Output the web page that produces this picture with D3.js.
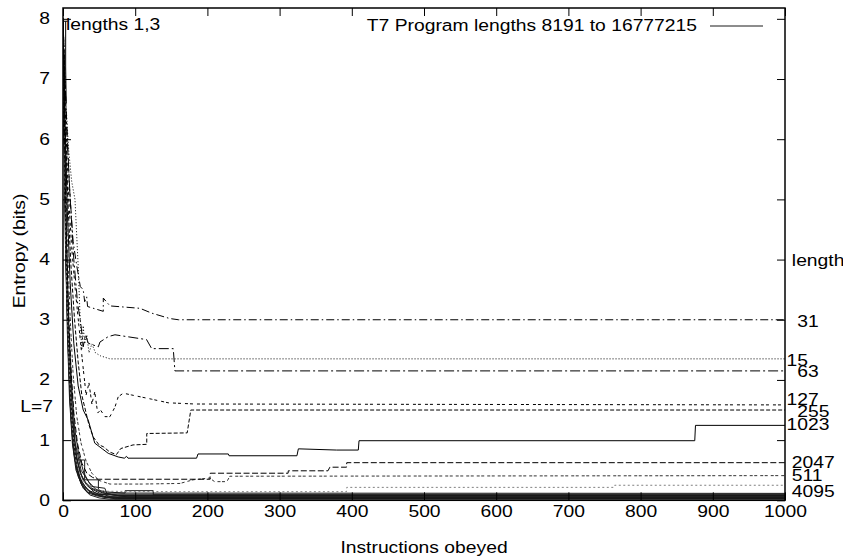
<!DOCTYPE html>
<html>
<head>
<meta charset="utf-8">
<script src="https://cdn.jsdelivr.net/npm/d3@7"></script>
<style>
  html, body { margin: 0; padding: 0; background: #fff; }
  svg { display: block; }
  text { font-family: "Liberation Sans", Arial, Helvetica, sans-serif; font-size: 16.5px; fill: #000; white-space: pre; }
</style>
</head>
<body>
<svg id="chart" width="843" height="560"></svg>
<script>
// ---- Axis ticks ----
const xTicks = [0, 100, 200, 300, 400, 500, 600, 700, 800, 900, 1000];
const yTicks = [0, 1, 2, 3, 4, 5, 6, 7, 8];

// ---- Entropy vs instructions obeyed, one array per T7 program length ----
const len1 = [[0, 7.96], [6.5, 7.96]];
const len3 = [[3.7, 7.96], [3.7, 7.2], [4.5, 6.6]];
const len15 = [[0, 8], [3, 6.8], [8, 5.8], [12, 5.3], [16.6, 5.0], [19, 4.4], [21, 3.9], [23.5, 3.1], [26, 2.5], [28, 2.9], [30, 2.6], [33, 2.75], [36, 2.45], [40, 2.6], [45, 2.45], [52, 2.4], [65, 2.35], [1000, 2.35]];
const len31 = [[0, 8], [4, 6.6], [9, 5.2], [14, 4.3], [19, 3.9], [24, 3.55], [28, 3.5], [30, 3.3], [32.8, 3.38], [34, 3.22], [55.8, 3.14], [55.8, 3.36], [65, 3.23], [106.6, 3.19], [122.8, 3.11], [148, 3.02], [160, 3.0], [1000, 3.0]];
const len63 = [[0, 8], [5, 6.2], [10, 5.0], [15, 4.0], [20, 3.3], [25, 2.9], [28, 2.55], [31, 2.75], [35, 2.61], [48.9, 2.55], [51.2, 2.63], [62.7, 2.72], [72, 2.75], [115.8, 2.67], [122.8, 2.52], [152.7, 2.52], [155, 2.15], [1000, 2.15]];
const len127 = [[0, 8], [3, 6.5], [7, 5.2], [12, 4.2], [17, 3.5], [22, 2.9], [27, 2.3], [32, 1.75], [36, 1.95], [40, 1.6], [44, 1.8], [48, 1.45], [52, 1.5], [58, 1.39], [65, 1.39], [72, 1.55], [76.5, 1.72], [83.5, 1.78], [95, 1.75], [122.8, 1.68], [145.7, 1.62], [182.7, 1.6], [1000, 1.585]];
const len255 = [[0, 8], [3, 6.3], [7, 4.9], [11, 3.9], [16, 3.0], [21, 2.3], [26, 1.75], [31, 1.5], [36, 1.25], [42, 1.05], [50, 0.92], [56, 0.89], [65, 0.8], [74, 0.76], [80, 0.86], [97, 0.92], [116, 0.93], [116, 1.11], [172, 1.12], [177, 1.5], [1000, 1.5]];
const len511 = [[0, 8], [2.5, 6.0], [6, 4.3], [10, 3.0], [14, 2.1], [19, 1.4], [25, 0.95], [32, 0.65], [40, 0.45], [50, 0.33], [65, 0.27], [110, 0.27], [162, 0.28], [180, 0.34], [203, 0.37], [210, 0.31], [227, 0.31], [231, 0.4], [1000, 0.41]];
const len1023 = [[0, 8], [3, 6.2], [6, 4.8], [10, 3.6], [15, 2.6], [21, 1.9], [28, 1.5], [35, 1.33], [44, 0.95], [55, 0.85], [62.7, 0.78], [76.5, 0.72], [85, 0.7], [88, 0.73], [90, 0.7], [185, 0.7], [187, 0.77], [229, 0.77], [230, 0.74], [324, 0.74], [326, 0.855], [379, 0.835], [409, 0.835], [410, 0.99], [875, 0.99], [876, 1.245], [1000, 1.245]];
const len2047 = [[0, 8], [2, 6.1], [4.5, 4.5], [7.5, 3.2], [11, 2.2], [15, 1.45], [20, 0.95], [26, 0.62], [33, 0.45], [41, 0.38], [48.7, 0.35], [203.5, 0.35], [204, 0.45], [311.8, 0.45], [312, 0.49], [367, 0.49], [369.6, 0.55], [392.7, 0.55], [393, 0.625], [1000, 0.625]];
const len4095 = [[0, 8], [1.5, 6.3], [3.5, 4.6], [6, 3.2], [9, 2.1], [13, 1.2], [18, 0.65], [25, 0.38], [33, 0.25], [45, 0.19], [60, 0.15], [162, 0.143], [392.7, 0.143], [393, 0.215], [763, 0.215], [764, 0.25], [1000, 0.25]];

// Lengths 8191 .. 16777215 (2^13-1 .. 2^24-1)
const len8191 = [[0, 8], [2, 6.0], [4, 4.4], [7, 3.0], [10, 1.9], [14, 1.05], [19, 0.67], [30, 0.67], [30, 0.34], [49, 0.34], [49, 0.17], [58, 0.14], [85, 0.12], [1000, 0.115]];
const len16383 = [[0, 8], [1.5, 6.4], [3.5, 4.8], [6, 3.4], [9, 2.2], [12, 1.4], [16.6, 0.67], [23.5, 0.34], [32.8, 0.14], [46.6, 0.1], [1000, 0.1]];
const len32767 = [[0, 8], [2, 5.8], [4.5, 4.0], [8, 2.6], [12, 1.6], [17, 0.95], [25, 0.5], [39.7, 0.23], [58, 0.2], [60.5, 0.12], [86, 0.12], [86, 0.16], [125, 0.16], [125, 0.09], [1000, 0.09]];
const len65535 = [[0, 8], [1, 6.8], [3, 5.0], [5, 3.6], [8, 2.4], [11, 1.5], [15, 0.9], [20, 0.5], [26, 0.3], [36, 0.16], [50, 0.1], [75, 0.08], [1000, 0.08]];
const len131071 = [[0, 8], [2.5, 5.5], [5, 3.8], [9, 2.3], [13, 1.3], [18, 0.75], [24, 0.45], [31, 0.3], [40, 0.2], [55, 0.12], [80, 0.07], [1000, 0.07]];
const len262143 = [[0, 8], [1.5, 6.0], [3, 4.5], [6, 2.8], [9, 1.7], [13, 0.95], [18, 0.5], [25, 0.28], [33, 0.18], [42, 0.1], [60, 0.06], [1000, 0.06]];
const len524287 = [[0, 8], [2, 6.2], [5, 4.2], [8, 2.9], [12, 1.9], [16, 1.2], [22, 0.75], [29, 0.45], [36, 0.3], [45, 0.19], [55, 0.13], [70, 0.09], [90, 0.055], [1000, 0.055]];
const len1048575 = [[0, 8], [1, 7.0], [2.5, 5.4], [4, 4.0], [7, 2.6], [10, 1.6], [14, 0.9], [19, 0.5], [26, 0.25], [35, 0.12], [48, 0.07], [65, 0.045], [1000, 0.045]];
const len2097151 = [[0, 8], [2, 5.9], [4, 4.3], [7, 2.9], [11, 1.7], [15, 1.0], [21, 0.6], [28, 0.33], [38, 0.2], [52, 0.11], [66, 0.06], [80, 0.04], [1000, 0.04]];
const len4194303 = [[0, 8], [1.5, 6.5], [3.5, 4.7], [6, 3.2], [9, 2.0], [13, 1.15], [18, 0.62], [24, 0.36], [32, 0.2], [42, 0.11], [56, 0.05], [75, 0.03], [1000, 0.03]];
const len8388607 = [[0, 8], [2, 6.3], [4, 4.6], [7, 3.1], [10, 2.0], [14, 1.2], [19, 0.7], [25, 0.42], [33, 0.25], [44, 0.13], [58, 0.06], [72, 0.025], [1000, 0.025]];
const len16777215 = [[0, 8], [1, 6.6], [3, 4.9], [5, 3.5], [8, 2.2], [11, 1.35], [15, 0.78], [21, 0.4], [28, 0.2], [37, 0.09], [50, 0.04], [64, 0.02], [1000, 0.02]];

// End-of-run labels on the right-hand axis (text, entropy)
const endLabels = ["  31", "15", "  63", "127", "  255", "1023", " 2047", " 511", " 4095"];
const endLabelValues = [2.98, 2.33, 2.15, 1.675, 1.49, 1.276, 0.636, 0.42, 0.155];

const legendText = "T7 Program lengths 8191 to 16777215";

// ---- Layout ----
const SX = 1.17; // horizontal stretch of the lettering
const svg = d3.select("#chart");
const plotLeft = 63, plotRight = 785, plotTop = 8, plotBottom = 500.3;
const x = d3.scaleLinear().domain([0, 1000]).range([plotLeft, plotRight]);
const y = d3.scaleLinear().domain([0, 8.18]).range([plotBottom, plotTop]);

function addText(g, str, px, py, anchor, rot) {
  return g.append("text")
    .attr("transform", `translate(${px},${py})${rot ? ` rotate(${rot})` : ""} scale(${SX},1)`)
    .attr("text-anchor", anchor)
    .text(str);
}

const line = d3.line().x(d => x(d[0])).y(d => y(d[1]));

const plot = svg.append("g");
plot.append("defs").append("clipPath").attr("id", "clip")
  .append("rect").attr("x", plotLeft).attr("y", plotTop)
  .attr("width", plotRight - plotLeft).attr("height", plotBottom - plotTop);
const lines = plot.append("g").attr("clip-path", "url(#clip)").attr("fill", "none");

function draw(data, color, dash) {
  lines.append("path").datum(data)
    .attr("d", line)
    .attr("stroke", color)
    .attr("stroke-width", 1)
    .attr("stroke-dasharray", dash || null);
}

const familyColor = "#1a1a1a";
const family = [len8191, len16383, len32767, len65535, len131071, len262143, len524287, len1048575, len2097151, len4194303, len8388607, len16777215];
family.forEach(d => draw(d, familyColor));

draw(len1, "#000");
draw(len3, "#000");
draw(len4095, "#808080", "2,2.5");
draw(len511, "#333", "3,1.5,3,3");
draw(len2047, "#000", "6,2.5");
draw(len1023, "#000");
draw(len255, "#000", "4,2");
draw(len127, "#000", "3,2,3,4");
draw(len63, "#000", "10,3,2,3");
draw(len15, "#000", "1,2");
draw(len31, "#000", "8,3,1.5,3");

// ---- Axes: inward ticks on all four sides ----
const axL = svg.append("g").attr("transform", `translate(${plotLeft},0)`)
  .call(d3.axisLeft(y).tickValues(yTicks).tickSize(-8).tickPadding(13).tickFormat(d3.format("d")));
axL.selectAll("text").attr("x", 0).attr("dy", "0.3em")
  .attr("transform", `translate(-13,0) scale(${SX},1)`);

const axB = svg.append("g").attr("transform", `translate(0,${plotBottom})`)
  .call(d3.axisBottom(x).tickValues(xTicks).tickSize(-8).tickPadding(5).tickFormat(d3.format("d")));
axB.selectAll("text").attr("transform", `scale(${SX},1)`);

svg.append("g").attr("transform", `translate(${plotRight},0)`)
  .call(d3.axisRight(y).tickValues(yTicks).tickSize(-8).tickFormat(""));
svg.append("g").attr("transform", `translate(0,${plotTop})`)
  .call(d3.axisTop(x).tickValues(xTicks).tickSize(-8).tickFormat(""));

svg.selectAll(".domain").remove();
svg.selectAll(".tick line").attr("stroke", "#000").attr("stroke-width", 1);
svg.selectAll(".tick text").attr("fill", "#000");
svg.selectAll(".tick").each(function () { d3.select(this.parentNode).attr("font-size", null).attr("font-family", null); });

svg.append("rect").attr("x", plotLeft).attr("y", plotTop)
  .attr("width", plotRight - plotLeft).attr("height", plotBottom - plotTop)
  .attr("fill", "none").attr("stroke", "#000").attr("stroke-width", 1.5);

// ---- Labels ----
const labels = svg.append("g");
addText(labels, "Instructions obeyed", (plotLeft + plotRight) / 2, 553, "middle");
addText(labels, "Entropy (bits)", 25, 251, "middle", -90);
addText(labels, " length", plotRight + 1.5, y(4) + 6, "start");
endLabels.forEach((t, i) => addText(labels, t, plotRight + 1.5, y(endLabelValues[i]) + 6, "start"));
addText(labels, "L=7", 53, y(1.57) + 6, "end");
addText(labels, "lengths 1,3", 66, 29.5, "start");

// Legend: key line drawn on a whole-pixel row, so it renders soft grey like a thin plotted line
addText(labels, legendText, 697, 31, "end");
svg.append("line").attr("x1", 710).attr("x2", 763).attr("y1", 26).attr("y2", 26)
  .attr("stroke", familyColor).attr("stroke-width", 1);
</script>
</body>
</html>
